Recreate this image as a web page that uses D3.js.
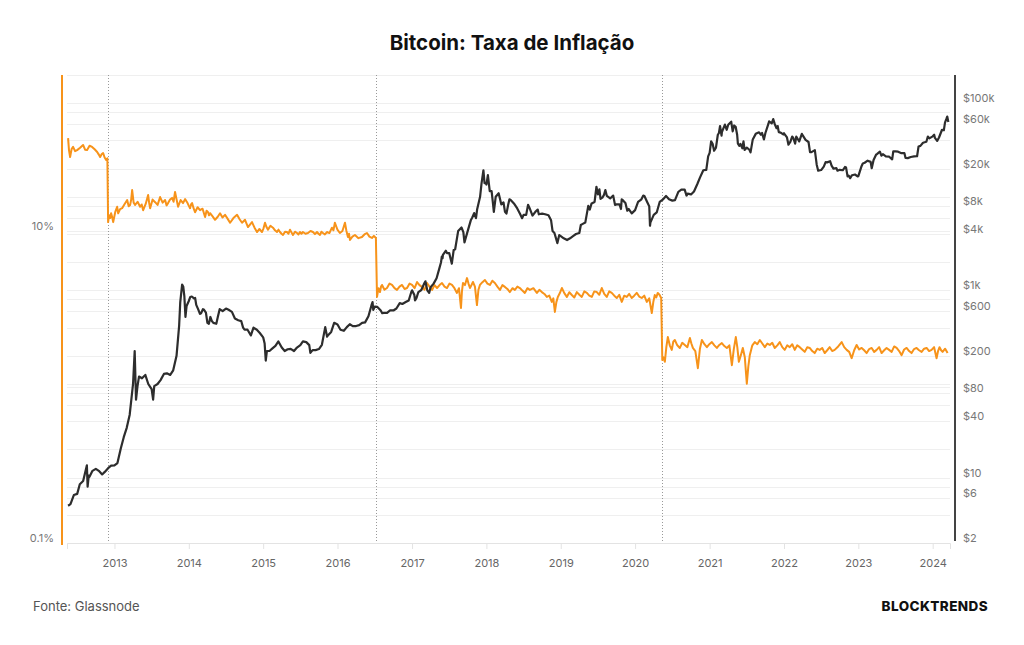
<!DOCTYPE html>
<html>
<head>
<meta charset="utf-8">
<script src="https://cdn.jsdelivr.net/npm/d3@7"></script>
<style>
    body { margin: 0; background: #fff; }
    svg { display: block; font-family: Inter, "Noto Sans", sans-serif; }
</style>
</head>
<body>
<svg id="chart" width="1024" height="645"></svg>
<script>
// halving dates (dotted lines)
const halvings = ['2012-11-28', '2016-07-09', '2020-05-11'];

// right axis (price, USD, log)
const priceTicks = [2, 4, 6, 8, 10, 20, 40, 60, 80, 100, 200, 400, 600, 800,
    1e3, 2e3, 4e3, 6e3, 8e3, 1e4, 2e4, 4e4, 6e4, 8e4, 1e5, 2e5];
const priceLabels = [2, 6, 10, 40, 80, 200, 600, 1e3, 4e3, 8e3, 2e4, 6e4, 1e5];

// left axis (inflation, %, log)
const inflationTicks = [1, 10];
const inflationLabels = [0.1, 10];

// inflation rate [decimal year, %]
const inflationEra1 = [
    [2012.378, 39.4], [2012.390, 33.0], [2012.405, 29.8], [2012.425, 33.5], [2012.445, 34.6],
    [2012.472, 32.5], [2012.499, 33.0], [2012.539, 34.2], [2012.579, 35.6], [2012.606, 33.2],
    [2012.633, 33.0], [2012.666, 35.2], [2012.700, 34.6], [2012.734, 33.4], [2012.768, 32.1],
    [2012.788, 31.0], [2012.808, 29.8], [2012.828, 31.0], [2012.848, 31.6], [2012.868, 29.6],
    [2012.889, 28.5], [2012.905, 29.2],
];
const inflationEra2 = [
    [2012.915, 11.4], [2012.928, 12.6], [2012.942, 12.1], [2012.955, 13.0], [2012.969, 12.3],
    [2012.983, 11.4], [2013.010, 13.2], [2013.036, 14.3], [2013.050, 13.0], [2013.076, 13.8],
    [2013.103, 14.0], [2013.137, 14.9], [2013.171, 15.8], [2013.191, 14.4], [2013.211, 14.7],
    [2013.225, 15.9], [2013.238, 18.3], [2013.258, 15.2], [2013.278, 14.7], [2013.311, 15.4],
    [2013.345, 14.3], [2013.366, 14.8], [2013.386, 13.6], [2013.420, 14.9], [2013.453, 17.0],
    [2013.466, 15.2], [2013.480, 14.0], [2013.513, 15.9], [2013.547, 15.3], [2013.580, 14.7],
    [2013.614, 16.5], [2013.648, 15.2], [2013.681, 15.8], [2013.701, 14.6], [2013.721, 15.1],
    [2013.748, 15.9], [2013.775, 16.3], [2013.795, 15.4], [2013.815, 17.8], [2013.836, 15.9],
    [2013.856, 14.3], [2013.890, 15.8], [2013.923, 15.1], [2013.950, 16.0], [2013.977, 15.3],
    [2013.997, 14.6], [2014.017, 14.0], [2014.030, 14.8], [2014.044, 15.1], [2014.064, 14.0],
    [2014.084, 13.2], [2014.118, 14.2], [2014.151, 13.6], [2014.185, 13.9], [2014.219, 12.3],
    [2014.239, 13.5], [2014.259, 13.2], [2014.272, 12.6], [2014.286, 13.0], [2014.320, 12.4],
    [2014.353, 11.8], [2014.387, 12.3], [2014.420, 13.0], [2014.453, 12.2], [2014.487, 12.7],
    [2014.521, 12.0], [2014.555, 11.3], [2014.600, 12.1], [2014.649, 12.7], [2014.683, 11.9],
    [2014.716, 11.3], [2014.756, 11.8], [2014.796, 10.6], [2014.823, 11.0], [2014.850, 11.4],
    [2014.884, 10.5], [2014.917, 9.85], [2014.950, 10.3], [2014.984, 9.85], [2015.005, 10.4],
    [2015.025, 11.3], [2015.045, 10.6], [2015.065, 10.2], [2015.098, 10.8], [2015.132, 10.5],
    [2015.159, 10.1], [2015.186, 9.85], [2015.206, 10.2], [2015.226, 9.85], [2015.247, 9.60],
    [2015.267, 9.43], [2015.294, 9.90], [2015.320, 9.85], [2015.341, 9.60], [2015.361, 10.2],
    [2015.381, 9.80], [2015.401, 9.43], [2015.428, 9.90], [2015.455, 9.71], [2015.475, 9.50],
    [2015.495, 9.85], [2015.515, 9.60], [2015.535, 9.85], [2015.569, 9.60], [2015.603, 9.71],
    [2015.637, 10.0], [2015.670, 9.85], [2015.697, 9.55], [2015.724, 9.85], [2015.744, 9.60],
    [2015.764, 9.43], [2015.784, 9.90], [2015.804, 9.71], [2015.831, 9.50], [2015.858, 9.85],
    [2015.891, 9.70], [2015.925, 10.5], [2015.945, 10.1], [2015.965, 11.3], [2015.999, 10.2],
    [2016.032, 9.71], [2016.066, 10.0], [2016.100, 11.3], [2016.120, 10.0], [2016.140, 9.15],
    [2016.154, 9.60], [2016.167, 8.76], [2016.200, 9.20], [2016.234, 9.43], [2016.281, 9.00],
    [2016.328, 9.15], [2016.361, 9.50], [2016.395, 9.71], [2016.428, 9.20], [2016.462, 9.02],
    [2016.488, 9.30], [2016.515, 9.02],
];
const inflationEra3 = [
    [2016.530, 3.78], [2016.550, 4.30], [2016.570, 4.06], [2016.584, 4.40], [2016.597, 4.51],
    [2016.630, 4.20], [2016.664, 4.31], [2016.698, 4.60], [2016.731, 4.51], [2016.765, 4.30],
    [2016.798, 4.19], [2016.832, 4.40], [2016.866, 4.51], [2016.900, 4.25], [2016.933, 4.31],
    [2016.967, 4.60], [2017.000, 4.51], [2017.034, 4.30], [2017.067, 4.71], [2017.100, 4.50],
    [2017.134, 4.38], [2017.168, 4.20], [2017.201, 4.64], [2017.235, 4.40], [2017.269, 4.19],
    [2017.302, 4.50], [2017.336, 4.31], [2017.370, 4.50], [2017.403, 4.64], [2017.437, 4.40],
    [2017.470, 4.31], [2017.504, 4.60], [2017.537, 4.51], [2017.570, 4.30], [2017.604, 4.01],
    [2017.631, 4.30], [2017.658, 3.21], [2017.671, 4.10], [2017.685, 4.64], [2017.712, 4.50],
    [2017.739, 4.99], [2017.759, 4.60], [2017.779, 4.31], [2017.799, 4.50], [2017.819, 4.71],
    [2017.846, 4.40], [2017.873, 3.35], [2017.893, 4.20], [2017.913, 4.51], [2017.947, 4.70],
    [2017.980, 4.85], [2018.014, 4.60], [2018.047, 4.51], [2018.080, 4.80], [2018.114, 4.64],
    [2018.148, 4.40], [2018.182, 4.19], [2018.215, 4.50], [2018.249, 4.38], [2018.282, 4.25],
    [2018.316, 4.06], [2018.350, 4.30], [2018.383, 4.19], [2018.417, 4.40], [2018.450, 4.31],
    [2018.484, 4.15], [2018.517, 4.01], [2018.551, 4.30], [2018.585, 4.19], [2018.632, 4.30],
    [2018.679, 4.01], [2018.712, 4.20], [2018.746, 4.06], [2018.780, 3.95], [2018.813, 3.78],
    [2018.846, 3.85], [2018.880, 3.51], [2018.900, 3.70], [2018.921, 3.03], [2018.941, 3.50],
    [2018.961, 3.78], [2018.988, 4.00], [2019.015, 4.31], [2019.048, 4.00], [2019.082, 3.78],
    [2019.115, 4.05], [2019.149, 3.89], [2019.182, 3.75], [2019.216, 4.06], [2019.250, 3.90],
    [2019.283, 3.78], [2019.317, 4.10], [2019.351, 4.01], [2019.384, 3.85], [2019.418, 3.78],
    [2019.451, 4.10], [2019.485, 4.06], [2019.518, 3.90], [2019.552, 4.31], [2019.585, 3.95],
    [2019.619, 3.78], [2019.652, 4.10], [2019.686, 4.01], [2019.720, 3.85], [2019.754, 3.72],
    [2019.787, 3.90], [2019.821, 3.51], [2019.854, 3.85], [2019.888, 3.78], [2019.921, 3.95],
    [2019.955, 3.72], [2019.988, 3.85], [2020.022, 4.01], [2020.055, 3.80], [2020.089, 3.72],
    [2020.123, 3.85], [2020.157, 3.51], [2020.190, 3.70], [2020.224, 2.98], [2020.244, 3.50],
    [2020.264, 3.89], [2020.284, 3.75], [2020.304, 4.01], [2020.327, 3.90], [2020.350, 3.72],
];
const inflationEra4 = [
    [2020.365, 1.49], [2020.382, 1.55], [2020.399, 1.45], [2020.419, 1.80], [2020.439, 2.09],
    [2020.465, 1.85], [2020.492, 1.73], [2020.512, 1.95], [2020.533, 2.00], [2020.566, 1.85],
    [2020.600, 1.78], [2020.633, 1.92], [2020.667, 1.86], [2020.701, 1.80], [2020.735, 2.06],
    [2020.755, 1.90], [2020.775, 1.78], [2020.808, 1.70], [2020.842, 1.32], [2020.869, 1.75],
    [2020.896, 2.00], [2020.930, 1.88], [2020.963, 1.80], [2020.996, 1.88], [2021.030, 1.94],
    [2021.064, 1.85], [2021.097, 1.78], [2021.130, 1.86], [2021.164, 1.91], [2021.198, 1.83],
    [2021.231, 1.78], [2021.265, 1.85], [2021.299, 1.38], [2021.325, 1.75], [2021.352, 2.09],
    [2021.372, 1.80], [2021.393, 1.45], [2021.420, 1.60], [2021.446, 1.78], [2021.473, 1.55],
    [2021.500, 1.05], [2021.520, 1.35], [2021.540, 1.60], [2021.574, 1.85], [2021.607, 1.94],
    [2021.641, 1.88], [2021.675, 2.00], [2021.708, 1.90], [2021.742, 1.80], [2021.776, 1.90],
    [2021.809, 1.86], [2021.842, 1.92], [2021.876, 1.78], [2021.910, 1.85], [2021.943, 1.94],
    [2021.977, 1.80], [2022.010, 1.73], [2022.044, 1.85], [2022.077, 1.80], [2022.111, 1.88],
    [2022.145, 1.73], [2022.178, 1.85], [2022.212, 1.80], [2022.245, 1.74], [2022.279, 1.68],
    [2022.313, 1.80], [2022.346, 1.78], [2022.380, 1.70], [2022.413, 1.65], [2022.447, 1.76],
    [2022.480, 1.73], [2022.514, 1.78], [2022.548, 1.65], [2022.581, 1.72], [2022.615, 1.80],
    [2022.648, 1.70], [2022.682, 1.73], [2022.729, 1.82], [2022.776, 1.94], [2022.810, 1.80],
    [2022.843, 1.73], [2022.877, 1.68], [2022.910, 1.53], [2022.944, 1.72], [2022.977, 1.86],
    [2023.011, 1.74], [2023.045, 1.78], [2023.078, 1.72], [2023.112, 1.65], [2023.146, 1.75],
    [2023.179, 1.78], [2023.213, 1.68], [2023.246, 1.73], [2023.280, 1.80], [2023.313, 1.65],
    [2023.347, 1.72], [2023.380, 1.78], [2023.414, 1.73], [2023.448, 1.68], [2023.482, 1.82],
    [2023.515, 1.78], [2023.549, 1.70], [2023.582, 1.60], [2023.616, 1.74], [2023.649, 1.78],
    [2023.683, 1.70], [2023.716, 1.65], [2023.750, 1.75], [2023.783, 1.78], [2023.817, 1.72],
    [2023.851, 1.68], [2023.885, 1.76], [2023.918, 1.78], [2023.952, 1.70], [2023.985, 1.73],
    [2024.019, 1.80], [2024.052, 1.53], [2024.072, 1.70], [2024.092, 1.80], [2024.113, 1.72],
    [2024.133, 1.68], [2024.167, 1.76], [2024.200, 1.65],
];

// price USD [decimal year, price]
const price2012to2016 = [
    [2012.378, 5.0], [2012.41, 5.2], [2012.455, 6.5], [2012.50, 6.7], [2012.535, 8.5],
    [2012.58, 9.2], [2012.63, 13.5], [2012.64, 8.0], [2012.655, 10.5], [2012.665, 10.2],
    [2012.705, 11.8], [2012.75, 12.4], [2012.79, 11.8], [2012.835, 10.8], [2012.87, 11.5],
    [2012.915, 12.6], [2012.955, 13.4], [2013.00, 13.5], [2013.04, 14.3], [2013.085, 20.4],
    [2013.125, 27], [2013.165, 34], [2013.205, 47], [2013.25, 100], [2013.272, 225],
    [2013.29, 68], [2013.31, 95], [2013.33, 120], [2013.37, 115], [2013.415, 125],
    [2013.455, 100], [2013.50, 88], [2013.52, 68], [2013.535, 95], [2013.58, 100],
    [2013.62, 110], [2013.665, 128], [2013.705, 130], [2013.75, 125], [2013.79, 140],
    [2013.835, 200], [2013.87, 420], [2013.885, 750], [2013.91, 1150], [2013.925, 1100],
    [2013.94, 870], [2013.955, 520], [2013.97, 680], [2014.00, 770], [2014.02, 850],
    [2014.04, 860], [2014.07, 820], [2014.085, 830], [2014.10, 700], [2014.125, 630],
    [2014.15, 560], [2014.165, 570], [2014.19, 630], [2014.205, 620], [2014.23, 580],
    [2014.25, 450], [2014.27, 440], [2014.29, 520], [2014.31, 470], [2014.33, 450],
    [2014.37, 440], [2014.39, 520], [2014.415, 630], [2014.455, 600], [2014.50, 640],
    [2014.535, 620], [2014.58, 590], [2014.62, 500], [2014.665, 480], [2014.705, 470],
    [2014.73, 400], [2014.75, 380], [2014.79, 380], [2014.835, 330], [2014.87, 400],
    [2014.915, 380], [2014.955, 350], [2015.00, 315], [2015.02, 270], [2015.035, 178],
    [2015.05, 225], [2015.085, 225], [2015.125, 240], [2015.165, 255], [2015.205, 285],
    [2015.25, 245], [2015.29, 225], [2015.33, 235], [2015.37, 237], [2015.415, 225],
    [2015.455, 245], [2015.50, 260], [2015.535, 285], [2015.58, 280], [2015.62, 260],
    [2015.635, 215], [2015.665, 230], [2015.705, 230], [2015.75, 236], [2015.79, 262],
    [2015.835, 405], [2015.86, 320], [2015.87, 330], [2015.915, 360], [2015.955, 450],
    [2016.00, 432], [2016.04, 380], [2016.085, 370], [2016.125, 405], [2016.165, 435],
    [2016.205, 415], [2016.25, 416], [2016.29, 425], [2016.33, 450], [2016.37, 455],
    [2016.415, 530], [2016.455, 690], [2016.47, 750], [2016.48, 620], [2016.50, 670],
    [2016.535, 665], [2016.58, 610], [2016.60, 570], [2016.62, 575], [2016.665, 575],
    [2016.705, 610], [2016.75, 610], [2016.79, 640], [2016.835, 730], [2016.87, 715],
    [2016.915, 750], [2016.955, 780], [2016.99, 960],
];
const price2017to2020 = [
    [2017.00, 1000], [2017.03, 900], [2017.04, 780], [2017.06, 830], [2017.085, 960],
    [2017.125, 1010], [2017.165, 1190], [2017.18, 1250], [2017.205, 1000], [2017.23, 940],
    [2017.25, 1080], [2017.29, 1180], [2017.33, 1350], [2017.37, 1750], [2017.39, 2000],
    [2017.40, 2300], [2017.41, 2200], [2017.415, 2400], [2017.455, 2650], [2017.47, 2500],
    [2017.50, 2500], [2017.535, 1930], [2017.56, 2700], [2017.58, 2750], [2017.62, 4300],
    [2017.665, 4700], [2017.69, 4200], [2017.705, 3250], [2017.75, 4350], [2017.79, 5600],
    [2017.81, 6000], [2017.835, 6700], [2017.86, 5900], [2017.875, 7300], [2017.915, 10000],
    [2017.935, 14000], [2017.96, 19200], [2017.975, 14000], [2017.99, 14000], [2018.00, 13500],
    [2018.02, 17000], [2018.045, 11500], [2018.07, 11500], [2018.085, 9000], [2018.10, 6900],
    [2018.125, 10000], [2018.165, 10900], [2018.20, 8300], [2018.23, 8700], [2018.25, 6900],
    [2018.27, 6600], [2018.29, 8000], [2018.31, 9400], [2018.33, 9200], [2018.37, 8500],
    [2018.415, 7500], [2018.455, 6500], [2018.48, 5900], [2018.50, 6400], [2018.535, 6400],
    [2018.56, 8200], [2018.58, 7600], [2018.62, 6300], [2018.665, 7000], [2018.69, 7300],
    [2018.705, 6500], [2018.75, 6600], [2018.79, 6500], [2018.835, 6350], [2018.87, 5600],
    [2018.89, 4300], [2018.915, 4100], [2018.955, 3200], [2018.98, 3900], [2019.00, 3800],
    [2019.04, 3600], [2019.085, 3450], [2019.125, 3600], [2019.165, 3800], [2019.205, 4000],
    [2019.25, 4100], [2019.27, 5000], [2019.29, 5100], [2019.33, 5300], [2019.37, 8000],
    [2019.39, 7300], [2019.415, 8500], [2019.455, 8800], [2019.48, 12800], [2019.50, 10600],
    [2019.52, 12000], [2019.535, 9500], [2019.56, 9800], [2019.58, 10400], [2019.60, 11800],
    [2019.62, 10200], [2019.665, 9600], [2019.705, 10300], [2019.73, 8200], [2019.75, 8300],
    [2019.79, 8300], [2019.81, 7400], [2019.82, 9400], [2019.835, 9200], [2019.87, 8600],
    [2019.895, 7100], [2019.915, 7400], [2019.955, 6650], [2020.00, 7200], [2020.04, 8800],
    [2020.085, 9400], [2020.11, 10300], [2020.125, 10200], [2020.165, 8700], [2020.19, 7900],
    [2020.20, 4900], [2020.205, 5300], [2020.25, 6400], [2020.29, 6800], [2020.33, 8800],
    [2020.37, 9300], [2020.415, 10200], [2020.455, 9400], [2020.50, 9100], [2020.535, 9200],
    [2020.58, 11300], [2020.62, 11900], [2020.665, 11900], [2020.69, 10300], [2020.705, 10800],
    [2020.75, 10600], [2020.79, 11400], [2020.835, 13700], [2020.87, 16000], [2020.915, 19200],
    [2020.955, 19400], [2020.98, 27000],
];
const price2021to2024 = [
    [2021.00, 29400], [2021.02, 39000], [2021.04, 36800], [2021.06, 31000], [2021.085, 33500],
    [2021.11, 46000], [2021.125, 48000], [2021.14, 57000], [2021.16, 45000], [2021.165, 49000],
    [2021.205, 59000], [2021.23, 52000], [2021.25, 58800], [2021.29, 63500], [2021.31, 50000],
    [2021.33, 57800], [2021.35, 56000], [2021.37, 46000], [2021.38, 37000], [2021.40, 35000],
    [2021.415, 36700], [2021.44, 33000], [2021.455, 39000], [2021.47, 31700], [2021.50, 33500],
    [2021.535, 31800], [2021.55, 29800], [2021.58, 41000], [2021.62, 47000], [2021.665, 48800],
    [2021.69, 46000], [2021.705, 48000], [2021.73, 41000], [2021.75, 48000], [2021.79, 60000],
    [2021.80, 64000], [2021.835, 61000], [2021.855, 67500], [2021.875, 60000], [2021.90, 54000],
    [2021.915, 57000], [2021.93, 49000], [2021.955, 48500], [2021.99, 46300], [2022.00, 47700],
    [2022.04, 43000], [2022.06, 36000], [2022.085, 38500], [2022.11, 44000], [2022.125, 42500],
    [2022.15, 37000], [2022.165, 44000], [2022.205, 39000], [2022.24, 47000], [2022.25, 45500],
    [2022.29, 40500], [2022.33, 38500], [2022.35, 30000], [2022.37, 30000], [2022.415, 31500],
    [2022.44, 22000], [2022.46, 19000], [2022.50, 19300], [2022.535, 21000], [2022.56, 23500],
    [2022.58, 23300], [2022.62, 24000], [2022.64, 21500], [2022.665, 20000], [2022.705, 20200],
    [2022.72, 19000], [2022.75, 19400], [2022.79, 19200], [2022.82, 20800], [2022.835, 20500],
    [2022.855, 16500], [2022.87, 16800], [2022.89, 15800], [2022.915, 17000], [2022.955, 17300],
    [2022.99, 16500], [2023.00, 16600], [2023.04, 20900], [2023.06, 22700], [2023.085, 23100],
    [2023.125, 24300], [2023.165, 23600], [2023.18, 20200], [2023.205, 24700], [2023.24, 28300],
    [2023.25, 28500], [2023.29, 30300], [2023.31, 27500], [2023.33, 28500], [2023.37, 27000],
    [2023.415, 26800], [2023.455, 25100], [2023.47, 30500], [2023.50, 30500], [2023.535, 30300],
    [2023.58, 29200], [2023.62, 29200], [2023.635, 26000], [2023.665, 25900], [2023.705, 26600],
    [2023.75, 27000], [2023.79, 27100], [2023.81, 34500], [2023.835, 35000], [2023.87, 37800],
    [2023.915, 38700], [2023.935, 44000], [2023.955, 42000], [2024.00, 44200], [2024.02, 46000],
    [2024.03, 42500], [2024.06, 39500], [2024.085, 43000], [2024.125, 52000], [2024.15, 51500],
    [2024.165, 62000], [2024.185, 68300], [2024.195, 72000], [2024.21, 63000],
];

const W = 1024;
const margin = { left: 67, right: 950, top: 75, bottom: 543 };
const orange = '#f7931a';
const dark = '#2d2d2d';

function fromYear(t) {
    const y = Math.floor(t);
    const s = Date.UTC(y, 0, 1);
    const e = Date.UTC(y + 1, 0, 1);
    return new Date(s + (t - y) * (e - s));
}

const svg = d3.select('#chart');

const x = d3.scaleUtc()
    .domain([new Date(Date.UTC(2012, 4, 13)), new Date(Date.UTC(2024, 2, 26))])
    .range([margin.left, margin.right]);
const yInf = d3.scaleLog()
    .domain([0.1, 100])
    .range([margin.bottom, margin.top]);
const yPrice = d3.scaleLog()
    .domain([2, 200000])
    .range([margin.bottom, margin.top]);

// title
svg.append('text')
    .attr('x', W / 2)
    .attr('y', 50)
    .attr('text-anchor', 'middle')
    .attr('font-size', 20.5)
    .attr('font-weight', 700)
    .attr('fill', '#111')
    .text('Bitcoin: Taxa de Inflação');

// grid
const grid = svg.append('g');
grid.selectAll('line.p')
    .data(priceTicks)
    .enter()
    .append('line')
    .attr('x1', margin.left)
    .attr('x2', margin.right)
    .attr('y1', d => Math.round(yPrice(d)) + 0.5)
    .attr('y2', d => Math.round(yPrice(d)) + 0.5)
    .attr('stroke', '#efefef');
grid.selectAll('line.i')
    .data(inflationTicks)
    .enter()
    .append('line')
    .attr('x1', margin.left)
    .attr('x2', margin.right)
    .attr('y1', d => Math.round(yInf(d)) + 0.5)
    .attr('y2', d => Math.round(yInf(d)) + 0.5)
    .attr('stroke', '#efefef');

// halving markers
svg.append('g')
    .selectAll('line')
    .data(halvings)
    .enter()
    .append('line')
    .attr('x1', d => Math.round(x(new Date(d))) + 0.5)
    .attr('x2', d => Math.round(x(new Date(d))) + 0.5)
    .attr('y1', margin.top)
    .attr('y2', margin.bottom)
    .attr('stroke', '#999')
    .attr('stroke-dasharray', '1,2');

// x axis
const xAxis = svg.append('g')
    .attr('transform', `translate(0,${margin.bottom})`)
    .call(d3.axisBottom(x)
        .ticks(d3.utcYear.every(1))
        .tickFormat(d3.utcFormat('%Y'))
        .tickSize(6)
        .tickPadding(10));
xAxis.select('.domain').attr('stroke', '#e3e3e3');
xAxis.selectAll('.tick line').attr('stroke', '#e3e3e3');
xAxis.selectAll('.tick text')
    .attr('fill', '#666')
    .attr('font-size', 11)
    .attr('font-family', 'Inter, "Noto Sans", sans-serif');

// left axis
svg.append('line')
    .attr('x1', 62).attr('x2', 62)
    .attr('y1', margin.top).attr('y2', margin.bottom + 2)
    .attr('stroke', orange)
    .attr('stroke-width', 2);
svg.append('g')
    .selectAll('text')
    .data(inflationLabels)
    .enter()
    .append('text')
    .attr('x', 54)
    .attr('y', d => yInf(d) - 1)
    .attr('text-anchor', 'end')
    .attr('font-size', 11)
    .attr('fill', '#777')
    .text(d => `${d}%`);

// right axis
svg.append('line')
    .attr('x1', 955).attr('x2', 955)
    .attr('y1', margin.top).attr('y2', margin.bottom - 2)
    .attr('stroke', '#444')
    .attr('stroke-width', 2);
const fmtPrice = d => (d >= 1000 ? `$${d / 1000}k` : `$${d}`);
svg.append('g')
    .selectAll('text')
    .data(priceLabels)
    .enter()
    .append('text')
    .attr('x', 963)
    .attr('y', d => yPrice(d) - 1)
    .attr('font-size', 11)
    .attr('fill', '#777')
    .text(fmtPrice);

// lines
const inflation = [...inflationEra1, ...inflationEra2, ...inflationEra3, ...inflationEra4];
const price = [...price2012to2016, ...price2017to2020, ...price2021to2024];

svg.append('path')
    .datum(inflation)
    .attr('fill', 'none')
    .attr('stroke', orange)
    .attr('stroke-width', 2)
    .attr('stroke-linejoin', 'round')
    .attr('d', d3.line()
        .x(d => x(fromYear(d[0])))
        .y(d => yInf(d[1])));

svg.append('path')
    .datum(price)
    .attr('fill', 'none')
    .attr('stroke', dark)
    .attr('stroke-width', 2.2)
    .attr('stroke-linejoin', 'round')
    .attr('d', d3.line()
        .x(d => x(fromYear(d[0])))
        .y(d => yPrice(d[1])));

// footer
svg.append('text')
    .attr('x', 33)
    .attr('y', 611)
    .attr('font-size', 13)
    .attr('fill', '#555')
    .text('Fonte: Glassnode');
svg.append('text')
    .attr('x', 988)
    .attr('y', 611)
    .attr('text-anchor', 'end')
    .attr('font-size', 13.5)
    .attr('font-weight', 800)
    .attr('letter-spacing', 0.4)
    .attr('fill', '#111')
    .text('BLOCKTRENDS');
</script>
</body>
</html>
